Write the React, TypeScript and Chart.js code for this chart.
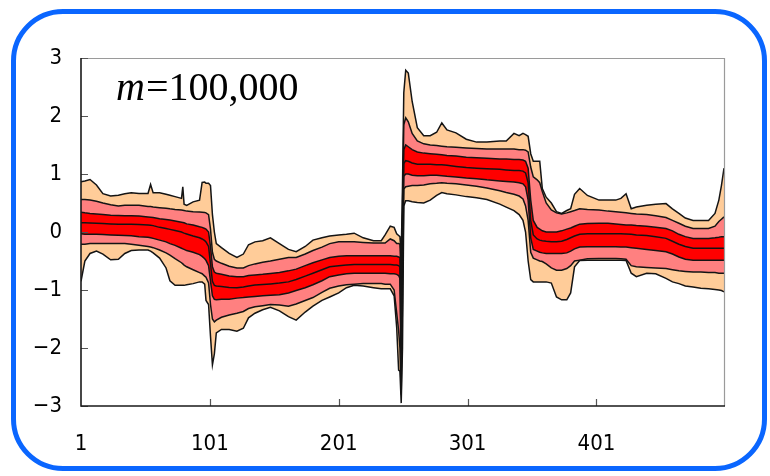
import React, { useEffect, useRef } from "react";
import { Chart, registerables } from "chart.js";
Chart.register(...registerables);

// sample positions (index along the series)
const xs = [1, 4, 8, 13, 18, 24, 30, 35, 40, 46, 53, 55, 57, 62, 67, 70, 74, 79, 80, 81, 83, 88, 93, 95, 97, 98, 100, 101.5, 103, 104.5, 106, 110, 116, 122, 127, 131, 136, 142, 148, 155, 162, 168, 175, 181, 188, 194, 201, 207, 213, 220, 228, 234, 237, 241, 244, 246, 247.5, 248.5, 249.5, 250.5, 251.5, 253, 255, 258, 262, 267, 272, 277, 281, 285, 292, 300, 308, 316, 326, 331, 337, 341, 344, 346, 348, 350, 352, 355, 357, 359, 362, 366, 370, 374, 378, 381, 384, 388, 394, 403, 410, 416, 420, 424, 428, 432, 440, 447, 455, 460, 465, 470, 476, 482, 488, 493, 496, 498, 500];

const outerHi = [0.865, 0.88, 0.905, 0.81, 0.66, 0.62, 0.635, 0.66, 0.675, 0.665, 0.665, 0.82, 0.675, 0.675, 0.65, 0.635, 0.61, 0.58, 0.78, 0.48, 0.46, 0.52, 0.55, 0.855, 0.86, 0.84, 0.84, 0.8, 0.3, 0.0, -0.2, -0.27, -0.37, -0.44, -0.38, -0.22, -0.17, -0.15, -0.1, -0.2, -0.3, -0.34, -0.25, -0.14, -0.1, -0.07, -0.05, -0.04, -0.02, -0.1, -0.15, -0.15, -0.05, 0.1, 0.08, -0.03, -0.06, -0.08, -0.4, 0.8, 2.4, 2.79, 2.74, 2.25, 1.8, 1.66, 1.66, 1.72, 1.88, 1.76, 1.71, 1.6, 1.55, 1.55, 1.57, 1.57, 1.7, 1.66, 1.7, 1.68, 1.65, 1.35, 1.22, 1.22, 1.22, 0.75, 0.6, 0.5, 0.35, 0.32, 0.37, 0.4, 0.65, 0.75, 0.63, 0.55, 0.55, 0.55, 0.58, 0.66, 0.4, 0.43, 0.46, 0.48, 0.49, 0.4, 0.32, 0.24, 0.2, 0.2, 0.2, 0.32, 0.55, 0.8, 1.1];

const midHi = [0.56, 0.56, 0.55, 0.53, 0.5, 0.47, 0.45, 0.46, 0.46, 0.46, 0.44, 0.44, 0.43, 0.42, 0.41, 0.4, 0.39, 0.38, 0.375, 0.37, 0.36, 0.35, 0.345, 0.34, 0.335, 0.33, 0.3, 0.05, -0.35, -0.47, -0.5, -0.54, -0.59, -0.62, -0.62, -0.58, -0.55, -0.52, -0.5, -0.47, -0.44, -0.44, -0.38, -0.32, -0.26, -0.2, -0.17, -0.17, -0.17, -0.18, -0.19, -0.19, -0.19, -0.12, -0.15, -0.2, -0.2, -0.21, -0.8, 0.4, 1.85, 1.97, 1.9, 1.7, 1.57, 1.52, 1.5, 1.49, 1.48, 1.47, 1.46, 1.45, 1.44, 1.43, 1.43, 1.43, 1.43, 1.42, 1.42, 1.41, 1.38, 1.12, 0.95, 0.9, 0.85, 0.7, 0.5, 0.38, 0.33, 0.31, 0.33, 0.35, 0.37, 0.4, 0.39, 0.38, 0.36, 0.35, 0.34, 0.33, 0.32, 0.31, 0.3, 0.28, 0.25, 0.2, 0.15, 0.1, 0.06, 0.06, 0.06, 0.1, 0.18, 0.22, 0.26];

const innerHi = [0.34, 0.33, 0.32, 0.31, 0.3, 0.29, 0.285, 0.28, 0.28, 0.275, 0.26, 0.255, 0.25, 0.23, 0.215, 0.205, 0.19, 0.17, 0.165, 0.16, 0.14, 0.12, 0.09, 0.08, 0.06, 0.05, 0.0, -0.25, -0.6, -0.69, -0.71, -0.73, -0.76, -0.77, -0.77, -0.75, -0.74, -0.73, -0.715, -0.7, -0.67, -0.64, -0.58, -0.53, -0.48, -0.44, -0.42, -0.41, -0.41, -0.41, -0.41, -0.41, -0.41, -0.41, -0.42, -0.42, -0.43, -0.44, -1.5, 0.1, 1.42, 1.5, 1.47, 1.42, 1.38, 1.36, 1.35, 1.34, 1.33, 1.32, 1.31, 1.29, 1.28, 1.27, 1.26, 1.26, 1.25, 1.25, 1.24, 1.22, 1.1, 0.55, 0.2, 0.08, 0.05, 0.02, 0.0, 0.0, 0.0, 0.02, 0.05, 0.07, 0.1, 0.135, 0.145, 0.15, 0.15, 0.14, 0.13, 0.12, 0.12, 0.11, 0.1, 0.08, 0.06, 0.02, -0.04, -0.08, -0.11, -0.11, -0.11, -0.1, -0.09, -0.08, -0.08];

const median = [0.16, 0.16, 0.155, 0.15, 0.145, 0.14, 0.135, 0.135, 0.135, 0.13, 0.12, 0.115, 0.11, 0.08, 0.06, 0.045, 0.025, 0.0, -0.01, -0.02, -0.035, -0.07, -0.1, -0.12, -0.15, -0.17, -0.25, -0.55, -0.85, -0.92, -0.93, -0.94, -0.955, -0.96, -0.95, -0.93, -0.915, -0.905, -0.895, -0.88, -0.86, -0.82, -0.76, -0.71, -0.65, -0.6, -0.58, -0.57, -0.56, -0.56, -0.56, -0.56, -0.56, -0.56, -0.57, -0.57, -0.58, -0.6, -2.1, -0.2, 1.18, 1.23, 1.22, 1.19, 1.17, 1.17, 1.17, 1.16, 1.16, 1.15, 1.13, 1.11, 1.1, 1.09, 1.08, 1.07, 1.06, 1.06, 1.05, 1.02, 0.85, 0.2, -0.05, -0.12, -0.14, -0.15, -0.16, -0.17, -0.17, -0.16, -0.13, -0.1, -0.07, -0.04, -0.03, -0.03, -0.03, -0.03, -0.03, -0.035, -0.04, -0.05, -0.06, -0.08, -0.11, -0.16, -0.21, -0.25, -0.28, -0.28, -0.28, -0.28, -0.28, -0.28, -0.28];

const innerLo = [-0.03, -0.04, -0.04, -0.04, -0.045, -0.05, -0.055, -0.06, -0.065, -0.08, -0.09, -0.1, -0.11, -0.14, -0.17, -0.2, -0.23, -0.28, -0.29, -0.3, -0.32, -0.35, -0.39, -0.42, -0.46, -0.49, -0.58, -0.85, -1.1, -1.16, -1.17, -1.16, -1.16, -1.14, -1.13, -1.12, -1.11, -1.1, -1.09, -1.08, -1.05, -1.01, -0.96, -0.91, -0.84, -0.77, -0.74, -0.72, -0.71, -0.71, -0.71, -0.71, -0.71, -0.72, -0.72, -0.73, -0.75, -0.8, -2.5, -0.6, 0.96, 1.0, 1.0, 0.98, 0.97, 0.97, 0.98, 0.98, 0.97, 0.96, 0.95, 0.93, 0.92, 0.9, 0.88, 0.87, 0.86, 0.85, 0.83, 0.78, 0.55, -0.1, -0.3, -0.33, -0.35, -0.36, -0.37, -0.37, -0.37, -0.37, -0.36, -0.33, -0.29, -0.26, -0.255, -0.255, -0.255, -0.255, -0.26, -0.26, -0.27, -0.28, -0.3, -0.32, -0.34, -0.38, -0.43, -0.47, -0.485, -0.485, -0.485, -0.485, -0.485, -0.485, -0.485];

const midLo = [-0.21, -0.21, -0.2, -0.2, -0.2, -0.2, -0.2, -0.2, -0.21, -0.23, -0.25, -0.26, -0.27, -0.31, -0.36, -0.4, -0.46, -0.53, -0.55, -0.57, -0.6, -0.65, -0.7, -0.72, -0.76, -0.78, -0.88, -1.25, -1.5, -1.55, -1.52, -1.47, -1.43, -1.4, -1.37, -1.32, -1.29, -1.27, -1.25, -1.26, -1.28, -1.24, -1.18, -1.13, -1.04, -0.97, -0.93, -0.91, -0.9, -0.89, -0.89, -0.89, -0.9, -0.9, -1.0, -1.4, -1.7, -2.0, -2.8, -1.2, 0.74, 0.78, 0.79, 0.8, 0.8, 0.81, 0.83, 0.84, 0.85, 0.84, 0.83, 0.81, 0.79, 0.76, 0.71, 0.68, 0.65, 0.62, 0.57, 0.45, 0.2, -0.35, -0.45, -0.48, -0.5, -0.51, -0.55, -0.62, -0.66, -0.66, -0.63, -0.58, -0.5, -0.485, -0.46, -0.455, -0.455, -0.455, -0.46, -0.47, -0.58, -0.6, -0.61, -0.62, -0.63, -0.65, -0.67, -0.68, -0.69, -0.69, -0.7, -0.7, -0.71, -0.71, -0.71];

const outerLo = [-0.85, -0.5, -0.37, -0.33, -0.38, -0.48, -0.47, -0.37, -0.32, -0.31, -0.31, -0.33, -0.36, -0.45, -0.62, -0.84, -0.92, -0.92, -0.92, -0.92, -0.91, -0.89, -0.86, -0.86, -0.9, -1.18, -1.25, -1.8, -2.29, -2.1, -1.74, -1.68, -1.68, -1.71, -1.66, -1.48, -1.4, -1.34, -1.3, -1.36, -1.46, -1.52, -1.38, -1.28, -1.18, -1.12, -1.05, -0.96, -0.92, -0.93, -0.96, -0.98, -0.98, -0.98, -1.1, -1.65, -2.38, -2.4, -2.95, -2.0, 0.45, 0.54, 0.54, 0.52, 0.51, 0.5, 0.55, 0.63, 0.68, 0.66, 0.64, 0.61, 0.59, 0.56, 0.48, 0.43, 0.37, 0.3, 0.2, 0.0, -0.5, -0.82, -0.86, -0.86, -0.86, -0.86, -0.86, -0.88, -1.12, -1.17, -1.17, -1.05, -0.6, -0.49, -0.485, -0.485, -0.485, -0.485, -0.485, -0.49, -0.71, -0.77, -0.71, -0.72, -0.8, -0.86, -0.89, -0.93, -0.95, -0.97, -0.98, -0.99, -1.0, -1.01, -1.03];

const xTicks = [1, 101, 201, 301, 401];
const yTicks = [-3, -2, -1, 0, 1, 2, 3];
const titleItalic = "m";
const titleRest = "=100,000";

const PEACH = "#ffcc99";
const PINK = "#ff8080";
const RED = "#ff0000";
const LINE = "#141414";

const frame = {
  id: "frame",
  afterDraw(chart: any) {
    const { ctx, chartArea: a, scales } = chart;
    ctx.save();
    ctx.strokeStyle = "#9a9a9a";
    ctx.lineWidth = 1.2;
    ctx.beginPath();
    ctx.moveTo(a.left, a.top + 0.5);
    ctx.lineTo(a.right + 0.5, a.top + 0.5);
    ctx.lineTo(a.right + 0.5, a.bottom);
    ctx.stroke();
    ctx.strokeStyle = "#555";
    ctx.lineWidth = 1.2;
    ctx.beginPath();
    yTicks.forEach((v) => {
      const y = Math.round(scales.y.getPixelForValue(v)) + 0.5;
      ctx.moveTo(a.left, y);
      ctx.lineTo(a.left + 7, y);
    });
    xTicks.forEach((v) => {
      if (v === 1) return;
      const x = Math.round(scales.x.getPixelForValue(v)) + 0.5;
      ctx.moveTo(x, a.bottom);
      ctx.lineTo(x, a.bottom - 7);
    });
    ctx.stroke();
    ctx.strokeStyle = "#1a1a1a";
    ctx.lineWidth = 1.6;
    ctx.beginPath();
    ctx.moveTo(a.left, a.top);
    ctx.lineTo(a.left, a.bottom);
    ctx.lineTo(a.right + 1, a.bottom);
    ctx.stroke();
    ctx.fillStyle = "#000";
    ctx.textBaseline = "alphabetic";
    ctx.textAlign = "left";
    ctx.font = 'italic 40px "Liberation Serif", "Times New Roman", serif';
    const x0 = 116;
    const yb = 100;
    ctx.fillText(titleItalic, x0, yb);
    const w = ctx.measureText(titleItalic).width;
    ctx.font = '40px "Liberation Serif", "Times New Roman", serif';
    ctx.fillText(titleRest, x0 + w + 1, yb);
    ctx.restore();
  },
};

const TICK_FONT = '"Liberation Sans Narrow", "DejaVu Sans Condensed", sans-serif';

export default function App() {
  const ref = useRef<HTMLCanvasElement | null>(null);
  useEffect(() => {
    if (!ref.current) return;
    const mk = (d: number[]) => d.map((y, i) => ({ x: xs[i], y }));
    const base = {
      borderColor: LINE,
      borderWidth: 1.5,
      pointRadius: 0,
      tension: 0,
    };
    const chart = new Chart(ref.current, {
      type: "line",
      data: {
        datasets: [
          { ...base, data: mk(outerHi), fill: "+1", backgroundColor: PEACH },
          { ...base, data: mk(midHi), fill: "+1", backgroundColor: PINK },
          { ...base, data: mk(innerHi), fill: "+1", backgroundColor: RED },
          { ...base, data: mk(median), fill: "+1", backgroundColor: RED },
          { ...base, data: mk(innerLo), fill: "+1", backgroundColor: PINK },
          { ...base, data: mk(midLo), fill: "+1", backgroundColor: PEACH },
          { ...base, data: mk(outerLo), fill: false },
        ],
      },
      options: {
        responsive: false,
        animation: false,
        devicePixelRatio: 1,
        layout: { padding: { left: 0, right: 46, top: 58, bottom: 20 } },
        plugins: {
          legend: { display: false },
          tooltip: { enabled: false },
          filler: { drawTime: "beforeDatasetsDraw" },
        },
        scales: {
          x: {
            type: "linear",
            min: 1,
            max: 500,
            grid: { display: false, drawTicks: false },
            border: { display: false },
            afterBuildTicks: (s: any) => {
              s.ticks = xTicks.map((v) => ({ value: v }));
            },
            afterFit: (s: any) => {
              s.height = 50;
            },
            ticks: {
              autoSkip: false,
              maxRotation: 0,
              padding: 25,
              color: "#000",
              font: { family: TICK_FONT, size: 22 },
              callback: (v: any) => String(v),
            },
          },
          y: {
            min: -3,
            max: 3,
            grid: { display: false, drawTicks: false },
            border: { display: false },
            afterBuildTicks: (s: any) => {
              s.ticks = yTicks.map((v) => ({ value: v }));
            },
            afterFit: (s: any) => {
              s.width = 81;
            },
            ticks: {
              padding: 19,
              color: "#000",
              font: { family: TICK_FONT, size: 22 },
              callback: (v: any) => String(v).replace("-", "\u2212"),
            },
          },
        },
      },
      plugins: [frame],
    });
    return () => chart.destroy();
  }, []);

  return (
    <div style={{ position: "fixed", left: 0, top: 0, width: 770, height: 476, background: "#fff" }}>
      <canvas ref={ref} width={770} height={476} style={{ position: "absolute", left: 0, top: 0, width: 770, height: 476 }} />
      <div
        style={{
          position: "absolute",
          left: 11,
          top: 9,
          width: 746,
          height: 452,
          border: "5px solid #0a66ff",
          borderRadius: 52,
          pointerEvents: "none",
        }}
      />
    </div>
  );
}
